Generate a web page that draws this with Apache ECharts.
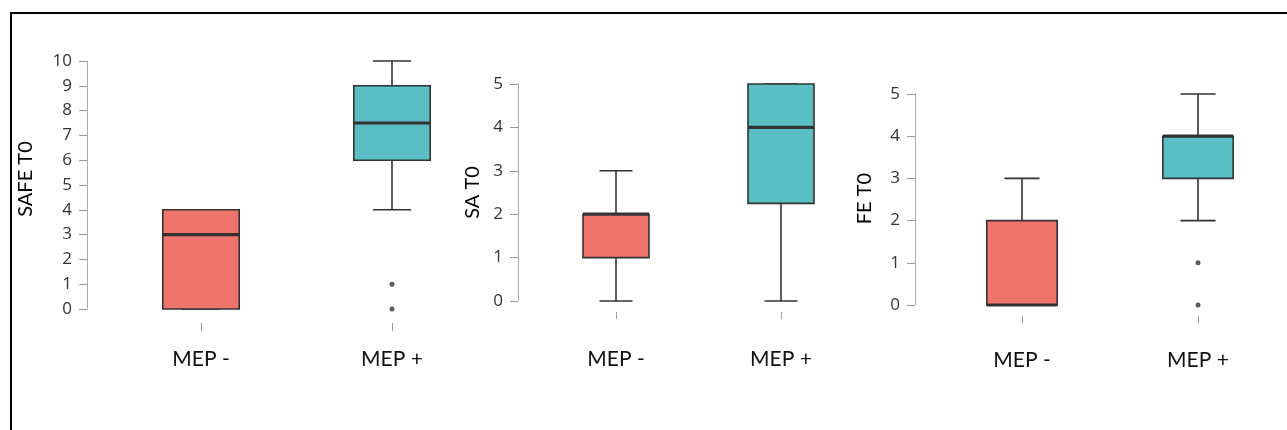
<!DOCTYPE html>
<html>
<head>
<meta charset="utf-8">
<script src="https://cdn.jsdelivr.net/npm/echarts@6/dist/echarts.min.js"></script>
<style>
html,body{margin:0;padding:0;background:#fff;}
#chart{width:1287px;height:430px;}
</style>
</head>
<body>
<div id="chart"></div>
<script>
// ---- data ----
var categories = ['MEP -', 'MEP +'];
var axisNames = ['SAFE T0', 'SA T0', 'FE T0'];
// [min, Q1, median, Q3, max] per category
var safeStats = [[0, 0, 3, 4, 4], [4, 6, 7.5, 9, 10]];
var saStats   = [[0, 1, 2, 2, 3], [0, 2.25, 4, 5, 5]];
var feStats   = [[0, 0, 0, 2, 3], [2, 3, 4, 4, 5]];
// outliers: [categoryIndex, value]
var safeOutliers = [[1, 1], [1, 0]];
var saOutliers   = [];
var feOutliers   = [[1, 1], [1, 0]];
var yMax = [10, 5, 5];

var boxColors = ['#EE746C', '#59BFC4'];
var ink = '#333333';

var panels = [
  {stats: safeStats, out: safeOutliers, left: 105.5, width: 382, top: 61, height: 248, yOff: 18.5, tickY: 323, tick: 8, labMargin: 26, nameGap: 51, namePad: [0, 0, 0, 12]},
  {stats: saStats,   out: saOutliers,   left: 533.5, width: 330, top: 84, height: 217, yOff: 15.5, tickY: 312, tick: 7, labMargin: 37, nameGap: 35, namePad: [0, 0, 0, 0]},
  {stats: feStats,   out: feOutliers,   left: 934,   width: 352, top: 94, height: 211, yOff: 19,   tickY: 316, tick: 7, labMargin: 34, nameGap: 40, namePad: [0, 0, 0, 2]}
];

function renderBox(params, api) {
  var c = api.value(0);
  var vMin = api.coord([c, api.value(1)]);
  var vQ1 = api.coord([c, api.value(2)]);
  var vMed = api.coord([c, api.value(3)]);
  var vQ3 = api.coord([c, api.value(4)]);
  var vMax = api.coord([c, api.value(5)]);
  var band = api.size([1, 0])[0];
  var bw = band * 0.4, cw = band * 0.2;
  var x = vMed[0];
  var lineStyle = {stroke: ink, lineWidth: 1.6, fill: null};
  var children = [
    {type: 'line', shape: {x1: x, y1: vMax[1], x2: x, y2: vQ3[1]}, style: lineStyle},
    {type: 'line', shape: {x1: x, y1: vQ1[1], x2: x, y2: vMin[1]}, style: lineStyle},
    {type: 'line', shape: {x1: x - cw / 2, y1: vMax[1], x2: x + cw / 2, y2: vMax[1]}, style: lineStyle},
    {type: 'line', shape: {x1: x - cw / 2, y1: vMin[1], x2: x + cw / 2, y2: vMin[1]}, style: lineStyle},
    {type: 'rect', shape: {x: x - bw / 2, y: vQ3[1], width: bw, height: vQ1[1] - vQ3[1]},
      style: {fill: boxColors[c], stroke: ink, lineWidth: 1.6}},
    {type: 'line', shape: {x1: x - bw / 2, y1: vMed[1], x2: x + bw / 2, y2: vMed[1]},
      style: {stroke: ink, lineWidth: 3.2}}
  ];
  return {type: 'group', children: children};
}

var grids = [], xAxes = [], yAxes = [], series = [];
panels.forEach(function (p, i) {
  var g = grids.length;
  // main plot grid
  grids.push({left: p.left, top: p.top, width: p.width, height: p.height, containLabel: false});
  xAxes.push({
    type: 'category', gridIndex: g, data: categories, boundaryGap: true,
    axisLine: {show: false}, axisTick: {show: false}, axisLabel: {show: false}, splitLine: {show: false}
  });
  yAxes.push({
    type: 'value', gridIndex: g, min: 0, max: yMax[i], interval: 1, offset: p.yOff,
    name: axisNames[i], nameLocation: 'middle', nameGap: p.nameGap,
    nameTextStyle: {fontSize: 20, color: '#000', fontFamily: 'Lato', padding: p.namePad},
    axisLine: {show: true, lineStyle: {color: '#aaa', width: 1}},
    axisTick: {show: true, length: 8, lineStyle: {color: '#999', width: 1}},
    axisLabel: {margin: 15, fontSize: 17, color: '#333', fontFamily: 'Open Sans'},
    splitLine: {show: false}
  });
  series.push({
    type: 'custom', xAxisIndex: g, yAxisIndex: g,
    data: p.stats.map(function (s, k) { return [k].concat(s); }),
    encode: {x: 0, y: [1, 2, 3, 4, 5]},
    renderItem: renderBox, silent: true
  });
  series.push({
    type: 'scatter', xAxisIndex: g, yAxisIndex: g, data: p.out,
    symbolSize: 5, itemStyle: {color: ink}, silent: true
  });
  // detached category axis (ticks + labels) below the plot
  grids.push({left: p.left, top: p.tickY - 1, width: p.width, height: 1, containLabel: false});
  xAxes.push({
    type: 'category', gridIndex: g + 1, data: categories, boundaryGap: true,
    axisLine: {show: false},
    axisTick: {show: true, alignWithLabel: true, length: p.tick, lineStyle: {color: '#999', width: 1}},
    axisLabel: {margin: p.labMargin, fontSize: 21, color: '#111', fontFamily: 'Lato'},
    splitLine: {show: false}
  });
  yAxes.push({type: 'value', gridIndex: g + 1, show: false, min: 0, max: 1});
});

var chart = echarts.init(document.getElementById('chart'), null, {renderer: 'canvas'});
chart.setOption({
  backgroundColor: '#fff',
  animation: false,
  grid: grids, xAxis: xAxes, yAxis: yAxes, series: series,
  graphic: [
    {type: 'line', shape: {x1: 10, y1: 13, x2: 1287, y2: 13}, style: {stroke: '#000', lineWidth: 2}},
    {type: 'line', shape: {x1: 11, y1: 12, x2: 11, y2: 430}, style: {stroke: '#000', lineWidth: 2}}
  ]
});
</script>
</body>
</html>
